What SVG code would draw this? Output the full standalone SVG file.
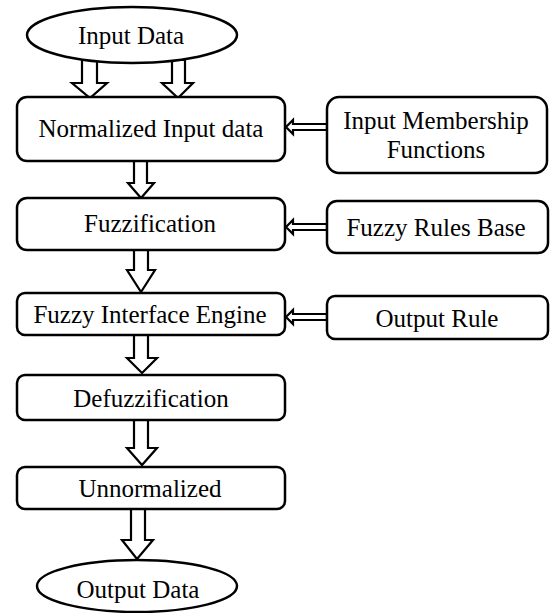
<svg xmlns="http://www.w3.org/2000/svg" width="551" height="613" viewBox="0 0 551 613">
<style>
.box{fill:#fff;stroke:#000;stroke-width:2.5}
.arr{fill:#fff;stroke:#000;stroke-width:2.2;stroke-linejoin:miter}
text{font-family:"Liberation Serif","Times New Roman",serif;font-size:25px;fill:#000;text-anchor:middle}
</style>
<rect width="551" height="613" fill="#fff"/>
<g id="connectors">
<polygon class="arr" points="82,60 97,60 97,83 107,83 90,98 72,83 82,83"/>
<polygon class="arr" points="172,60 185,60 185,83 193,83 178,98 162,83 172,83"/>
<polygon class="arr" points="134,161 147,161 147,183 154,183 141,198 128,183 134,183"/>
<polygon class="arr" points="134,250 148,250 148,270 155,270 141,292 127,270 134,270"/>
<polygon class="arr" points="134,335 148,335 148,358 157,358 142,373 127,358 134,358"/>
<polygon class="arr" points="134,420 148,420 148,448 157,448 142,465 127,448 134,448"/>
<polygon class="arr" points="131,509 145,509 145,540 153,540 137,559 122,540 131,540"/>
<polygon class="arr" points="327,124 293,124 293,120 286,127 293,134 293,130 327,130"/>
<polygon class="arr" points="327,224 293,224 293,220 286,227 293,234 293,230 327,230"/>
<polygon class="arr" points="327,314 293,314 293,310 286,317 293,324 293,320 327,320"/>
</g>
<g id="input-data"><ellipse class="box" cx="132" cy="35" rx="105" ry="28"/><text x="131" y="44">Input Data</text></g>
<g id="normalized"><rect class="box" x="17" y="97" width="268" height="64" rx="10"/><text x="151" y="137">Normalized Input data</text></g>
<g id="input-membership"><rect class="box" x="327" y="97" width="220" height="76" rx="12"/><text x="436" y="129">Input Membership</text><text x="436" y="158">Functions</text></g>
<g id="fuzzification"><rect class="box" x="17" y="198" width="268" height="52" rx="10"/><text x="150" y="232">Fuzzification</text></g>
<g id="fuzzy-rules"><rect class="box" x="327" y="201" width="221" height="52" rx="10"/><text x="436" y="236">Fuzzy Rules Base</text></g>
<g id="fie"><rect class="box" x="17" y="293" width="268" height="42" rx="8"/><text x="150" y="323">Fuzzy Interface Engine</text></g>
<g id="output-rule"><rect class="box" x="327" y="296" width="221" height="43" rx="8"/><text x="437" y="327">Output Rule</text></g>
<g id="defuzz"><rect class="box" x="17" y="375" width="268" height="45" rx="8"/><text x="151" y="407">Defuzzification</text></g>
<g id="unnormalized"><rect class="box" x="17" y="467" width="268" height="42" rx="8"/><text x="150" y="497">Unnormalized</text></g>
<g id="output-data"><ellipse class="box" cx="137" cy="586" rx="100" ry="26"/><text x="138" y="598">Output Data</text></g>
</svg>
